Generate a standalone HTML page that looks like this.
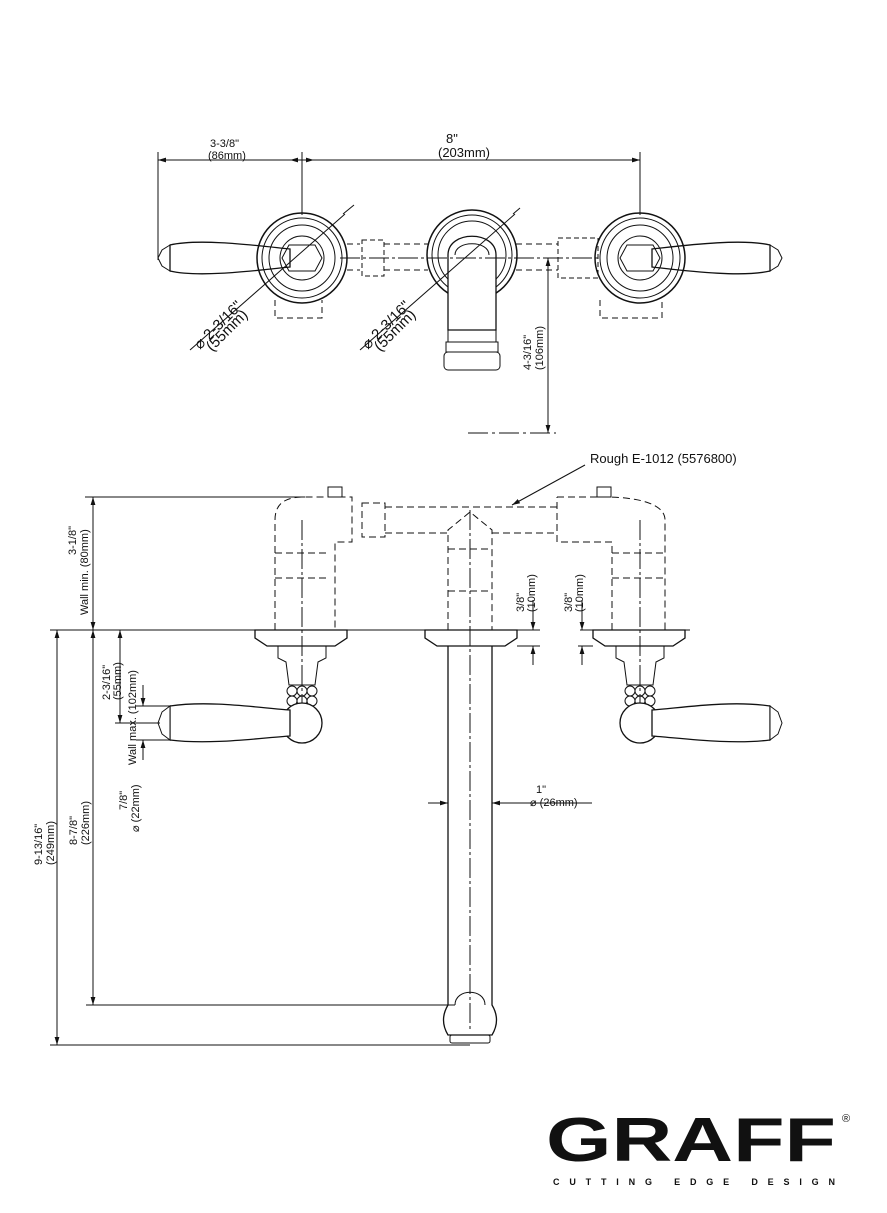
<!DOCTYPE html>
<html><head><meta charset="utf-8"><style>
html,body{margin:0;padding:0;background:#fff}
svg{display:block}
text{font-family:"Liberation Sans",sans-serif;fill:#111}
</style></head><body>
<svg width="887" height="1213" viewBox="0 0 887 1213" xmlns="http://www.w3.org/2000/svg">
<defs>
<marker id="a" viewBox="0 0 10 10" refX="10" refY="5" markerWidth="8" markerHeight="8" orient="auto-start-reverse"><path d="M0,2 L10,5 L0,8 z" fill="#111"/></marker>
</defs>
<g stroke="#111" fill="none" stroke-width="1">
<line x1="158" y1="160" x2="640" y2="160" marker-start="url(#a)" marker-end="url(#a)"/>
<line x1="302" y1="160" x2="290" y2="160" marker-end="url(#a)"/>
<line x1="302" y1="160" x2="314" y2="160" marker-end="url(#a)"/>
<line x1="158" y1="152" x2="158" y2="260"/>
<line x1="302" y1="152" x2="302" y2="215"/>
<line x1="640" y1="152" x2="640" y2="215"/>
<circle cx="302" cy="258" r="45" stroke-width="1.5"/>
<circle cx="302" cy="258" r="40"/>
<circle cx="302" cy="258" r="33"/>
<circle cx="302" cy="258" r="22"/>
<path d="M289,245 L315,245 L322,258 L315,271 L289,271 L282,258 Z"/>
<path d="M170,245 C200,238 260,246 290,249 L290,267 C260,270 200,278 170,271 Z" stroke-width="1.3"/>
<path d="M170,245 L162,250 L158,258 L162,266 L170,271 Z"/>
<line x1="345" y1="214" x2="190" y2="350" stroke-width="1"/>
<line x1="343" y1="214" x2="354" y2="205"/>
<path d="M275,300 L275,318 L322,318 L322,300" stroke-dasharray="6,4"/>
<circle cx="472" cy="255" r="45" stroke-width="1.5"/>
<circle cx="472" cy="255" r="40"/>
<circle cx="472" cy="255" r="34"/>
<path d="M448,255 C448,230 496,230 496,255 L496,330 L448,330 Z" fill="#fff" stroke-width="1.3"/>
<path d="M455,255 C455,240 489,240 489,255"/>
<rect x="448" y="330" width="48" height="12"/>
<rect x="446" y="342" width="52" height="10"/>
<rect x="444" y="352" width="56" height="18" rx="4"/>
<line x1="515" y1="214" x2="360" y2="350"/>
<line x1="513" y1="214" x2="520" y2="208"/>
<path d="M347,244 L360,244 M347,270 L360,270" stroke-dasharray="6,4"/>
<rect x="362" y="240" width="22" height="36" stroke-dasharray="5,3"/>
<path d="M384,244 L428,244 M384,270 L428,270 M516,244 L558,244 M516,270 L558,270" stroke-dasharray="6,4"/>
<rect x="558" y="238" width="40" height="40" stroke-dasharray="5,3"/>
<line x1="340" y1="258" x2="600" y2="258" stroke-dasharray="20,3,3,3"/>
<circle cx="640" cy="258" r="45" stroke-width="1.5"/>
<circle cx="640" cy="258" r="40"/>
<circle cx="640" cy="258" r="33"/>
<circle cx="640" cy="258" r="22"/>
<path d="M627,245 L653,245 L660,258 L653,271 L627,271 L620,258 Z"/>
<path d="M770,245 C740,238 680,246 652,249 L652,267 C680,270 740,278 770,271 Z" stroke-width="1.3"/>
<path d="M770,245 L778,250 L782,258 L778,266 L770,271 Z"/>
<path d="M600,300 L600,318 L662,318 L662,300" stroke-dasharray="6,4"/>
<line x1="548" y1="258" x2="548" y2="433" marker-start="url(#a)" marker-end="url(#a)"/>
<line x1="468" y1="433" x2="556" y2="433" stroke-dasharray="20,4,3,4"/>

<line x1="585" y1="465" x2="512" y2="505" marker-end="url(#a)"/>
<g stroke-dasharray="7,4">
<path d="M275,630 L275,520 C275,500 290,497 305,497 L352,497 L352,542 L335,542 L335,630"/>
<rect x="362" y="503" width="23" height="34"/>
<path d="M385,507 L557,507 M385,533 L448,533 M492,533 L557,533"/>
<path d="M448,630 L448,530 L470,512 L492,530 L492,630"/>
<path d="M448,549 L492,549 M448,591 L492,591"/>
<path d="M557,497 L605,497 C625,497 665,500 665,520 L665,630 M612,630 L612,542 L557,542 L557,497"/>
<path d="M275,553 L330,553 M275,578 L330,578 M612,553 L665,553 M612,578 L665,578"/>
</g>
<rect x="328" y="487" width="14" height="10"/>
<rect x="597" y="487" width="14" height="10"/>
<line x1="302" y1="520" x2="302" y2="720" stroke-dasharray="20,3,3,3"/>
<line x1="640" y1="520" x2="640" y2="720" stroke-dasharray="20,3,3,3"/>
<line x1="470" y1="510" x2="470" y2="1030" stroke-dasharray="20,3,3,3"/>
<line x1="50" y1="630" x2="540" y2="630"/>
<line x1="580" y1="630" x2="690" y2="630"/>
<path d="M255,630 L347,630 L347,638 L335,646 L267,646 L255,638 Z" stroke-width="1.3"/>
<path d="M425,630 L517,630 L517,638 L505,646 L437,646 L425,638 Z" stroke-width="1.3"/>
<path d="M593,630 L685,630 L685,638 L673,646 L605,646 L593,638 Z" stroke-width="1.3"/>
<path d="M278,646 L326,646 L326,658 L318,662 L315,685 L289,685 L286,662 L278,658 Z"/>
<circle cx="292" cy="691" r="5"/><circle cx="302" cy="691" r="5"/><circle cx="312" cy="691" r="5"/>
<circle cx="292" cy="701" r="5"/><circle cx="302" cy="701" r="5"/><circle cx="312" cy="701" r="5"/>
<circle cx="302" cy="723" r="20" fill="#fff" stroke-width="1.3"/>
<path d="M170,706 C210,700 260,708 290,710 L290,736 C260,738 210,745 170,740 Z" fill="#fff" stroke-width="1.3"/>
<path d="M170,706 L162,712 L158,723 L162,734 L170,740 Z" fill="#fff"/>
<path d="M616,646 L664,646 L664,658 L656,662 L653,685 L627,685 L624,662 L616,658 Z"/>
<circle cx="630" cy="691" r="5"/><circle cx="640" cy="691" r="5"/><circle cx="650" cy="691" r="5"/>
<circle cx="630" cy="701" r="5"/><circle cx="640" cy="701" r="5"/><circle cx="650" cy="701" r="5"/>
<circle cx="640" cy="723" r="20" fill="#fff" stroke-width="1.3"/>
<path d="M770,706 C730,700 680,708 652,710 L652,736 C680,738 730,745 770,740 Z" fill="#fff" stroke-width="1.3"/>
<path d="M770,706 L778,712 L782,723 L778,734 L770,740 Z" fill="#fff"/>
<path d="M448,646 L448,1005 C442,1015 442,1025 448,1035 L492,1035 C498,1025 498,1015 492,1005 L492,646" stroke-width="1.3"/>
<path d="M455,1005 C455,988 485,988 485,1005"/>
<rect x="450" y="1035" width="40" height="8" rx="2"/>
<line x1="428" y1="803" x2="448" y2="803" marker-end="url(#a)"/>
<line x1="512" y1="803" x2="492" y2="803" marker-end="url(#a)"/>
<line x1="492" y1="803" x2="592" y2="803"/>
<line x1="533" y1="600" x2="533" y2="630" marker-end="url(#a)"/>
<line x1="533" y1="665" x2="533" y2="646" marker-end="url(#a)"/>
<line x1="517" y1="646" x2="540" y2="646"/>
<line x1="582" y1="600" x2="582" y2="630" marker-end="url(#a)"/>
<line x1="582" y1="665" x2="582" y2="646" marker-end="url(#a)"/>
<line x1="578" y1="646" x2="593" y2="646"/>
<line x1="85" y1="497" x2="305" y2="497"/>
<line x1="93" y1="497" x2="93" y2="630" marker-start="url(#a)" marker-end="url(#a)"/>
<line x1="57" y1="630" x2="57" y2="1045" marker-start="url(#a)" marker-end="url(#a)"/>
<line x1="50" y1="1045" x2="470" y2="1045"/>
<line x1="93" y1="630" x2="93" y2="1005" marker-start="url(#a)" marker-end="url(#a)"/>
<line x1="86" y1="1005" x2="455" y2="1005"/>
<line x1="120" y1="630" x2="120" y2="723" marker-start="url(#a)" marker-end="url(#a)"/>
<line x1="115" y1="723" x2="160" y2="723"/>
<line x1="143" y1="685" x2="143" y2="706" marker-end="url(#a)"/>
<line x1="143" y1="760" x2="143" y2="740" marker-end="url(#a)"/>
<line x1="136" y1="706" x2="170" y2="706"/>
<line x1="136" y1="740" x2="170" y2="740"/>
</g>
<g font-size="11">
<text x="210" y="147">3-3/8"</text><text x="208" y="159">(86mm)</text>
<text x="446" y="143" font-size="13">8"</text><text x="438" y="157" font-size="13">(203mm)</text>
<text transform="translate(200,350) rotate(-45)" font-size="15">⌀  2-3/16"</text>
<text transform="translate(212,352) rotate(-45)" font-size="15">(55mm)</text>
<text transform="translate(368,350) rotate(-45)" font-size="15">⌀  2-3/16"</text>
<text transform="translate(380,352) rotate(-45)" font-size="15">(55mm)</text>
<text transform="translate(531,370) rotate(-90)">4-3/16"</text>
<text transform="translate(543,370) rotate(-90)">(106mm)</text>
<text x="590" y="463" font-size="13">Rough E-1012 (5576800)</text>
<text transform="translate(76,555) rotate(-90)">3-1/8"</text>
<text transform="translate(88,615) rotate(-90)">Wall min. (80mm)</text>
<text transform="translate(524,612) rotate(-90)">3/8"</text>
<text transform="translate(535,612) rotate(-90)">(10mm)</text>
<text transform="translate(572,612) rotate(-90)">3/8"</text>
<text transform="translate(583,612) rotate(-90)">(10mm)</text>
<text transform="translate(110,700) rotate(-90)">2-3/16"</text>
<text transform="translate(121,700) rotate(-90)">(55mm)</text>
<text transform="translate(136,765) rotate(-90)">Wall max. (102mm)</text>
<text transform="translate(127,810) rotate(-90)">7/8"</text>
<text transform="translate(139,832) rotate(-90)">⌀ (22mm)</text>
<text transform="translate(42,865) rotate(-90)">9-13/16"</text>
<text transform="translate(54,865) rotate(-90)">(249mm)</text>
<text transform="translate(77,845) rotate(-90)">8-7/8"</text>
<text transform="translate(89,845) rotate(-90)">(226mm)</text>
<text x="536" y="793">1"</text><text x="530" y="806">⌀ (26mm)</text>
</g>
<text x="546" y="1161" font-size="62" font-weight="bold" textLength="290" lengthAdjust="spacingAndGlyphs">GRAFF</text>
<text x="842" y="1122" font-size="11">®</text>
<text x="553" y="1185" font-size="9" font-weight="bold" textLength="282" lengthAdjust="spacing">CUTTING EDGE DESIGN</text>
</svg>
</body></html>
